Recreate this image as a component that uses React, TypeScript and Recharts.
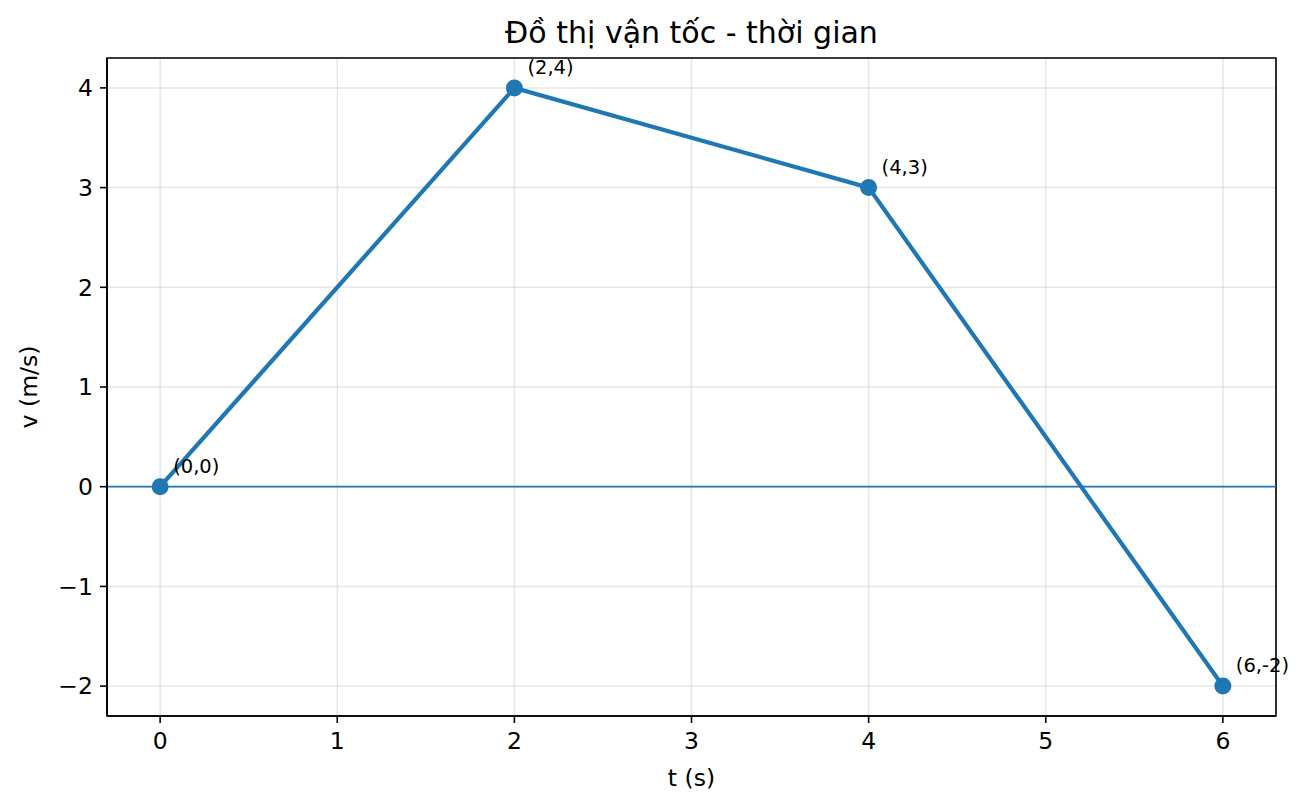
import React from "react";
import {
  LineChart,
  Line,
  XAxis,
  YAxis,
  CartesianGrid,
  ReferenceLine,
  ReferenceArea,
  LabelList,
} from "recharts";

const times = [0, 2, 4, 6];
const velocities = [0, 4, 3, -2];
const xTicks = [0, 1, 2, 3, 4, 5, 6];
const yTicks = [-2, -1, 0, 1, 2, 3, 4];
const xDomain = [-0.3, 6.3];
const yDomain = [-2.3, 4.3];

const TITLE = "Đồ thị vận tốc - thời gian";
const X_LABEL = "t (s)";
const Y_LABEL = "v (m/s)";

const BLUE = "#1f77b4";
const FONT = "'DejaVu Sans', sans-serif";

const data = times.map((t, i) => ({
  t,
  v: velocities[i],
  label: `(${t},${velocities[i]})`,
}));

const fmtTick = (v: number) => (v < 0 ? `\u2212${Math.abs(v)}` : `${v}`);

const W = 1307;
const H = 809;

function PointLabel(props: any) {
  const { x, y, value } = props;
  return (
    <text x={x + 13} y={y - 14} fontSize={19.5} fill="#000" fontFamily={FONT}>
      {value}
    </text>
  );
}

export default function App() {
  const tickStyle = { fill: "#000", fontSize: 23.5, fontFamily: FONT };
  return (
    <div
      style={{
        position: "absolute",
        left: 0,
        top: 0,
        width: W,
        height: H,
        background: "#fff",
        fontFamily: FONT,
      }}
    >
      <LineChart
        width={W}
        height={H}
        data={data}
        margin={{ top: 58, right: 31, bottom: 33, left: 47 }}
      >
        <CartesianGrid
          stroke="#b0b0b0"
          strokeOpacity={0.3}
          strokeWidth={1.5}
        />
        <XAxis
          dataKey="t"
          type="number"
          domain={xDomain}
          ticks={xTicks}
          tickFormatter={fmtTick}
          height={60}
          tick={tickStyle}
          tickSize={7}
          tickMargin={9}
          stroke="#000"
          strokeWidth={1.6}
          allowDataOverflow
        />
        <YAxis
          type="number"
          domain={yDomain}
          ticks={yTicks}
          tickFormatter={fmtTick}
          width={60}
          tick={tickStyle}
          tickSize={7}
          tickMargin={7}
          stroke="#000"
          strokeWidth={1.6}
          allowDataOverflow
        />
        <ReferenceLine y={0} stroke={BLUE} strokeWidth={1.8} />
        <Line
          dataKey="v"
          stroke={BLUE}
          strokeWidth={4.2}
          dot={{ r: 8.5, fill: BLUE, stroke: "none" }}
          activeDot={false}
          isAnimationActive={false}
        />
        <ReferenceArea
          x1={xDomain[0]}
          x2={xDomain[1]}
          y1={yDomain[0]}
          y2={yDomain[1]}
          fill="none"
          fillOpacity={0}
          stroke="#000"
          strokeWidth={1.6}
          strokeOpacity={1}
          ifOverflow="visible"
        />
        <Line
          dataKey="v"
          stroke="none"
          dot={false}
          activeDot={false}
          legendType="none"
          isAnimationActive={false}
        >
          <LabelList dataKey="label" content={PointLabel} />
        </Line>
      </LineChart>
      <svg
        width={W}
        height={H}
        style={{ position: "absolute", left: 0, top: 0, pointerEvents: "none" }}
      >
        <text
          x={691.5}
          y={43}
          textAnchor="middle"
          fontSize={30}
          fontFamily={FONT}
          fill="#000"
        >
          {TITLE}
        </text>
        <text
          x={691.5}
          y={786}
          textAnchor="middle"
          fontSize={23.5}
          fontFamily={FONT}
          fill="#000"
        >
          {X_LABEL}
        </text>
        <text
          x={37}
          y={387}
          textAnchor="middle"
          fontSize={23.5}
          fontFamily={FONT}
          fill="#000"
          transform="rotate(-90 37 387)"
        >
          {Y_LABEL}
        </text>
      </svg>
    </div>
  );
}
